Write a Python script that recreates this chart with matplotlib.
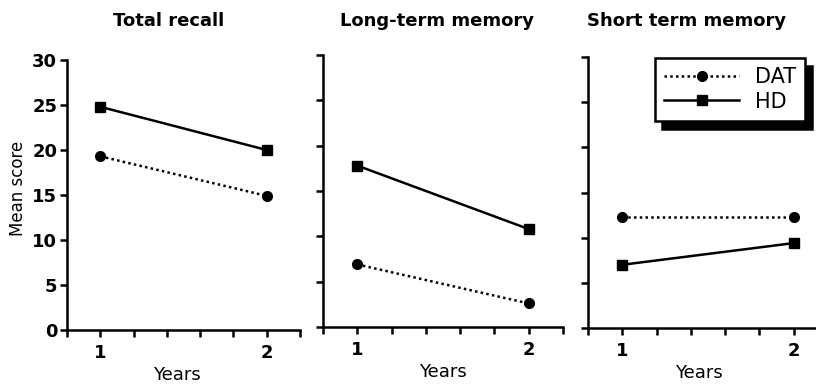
import numpy as np
import matplotlib
matplotlib.use('Agg')
import matplotlib.pyplot as plt
from matplotlib.lines import Line2D

years = [1, 2]
titles = ['Total recall', 'Long-term memory', 'Short term memory']
dat_scores = [[19.3, 14.9], [6.9, 2.6], [12.3, 12.3]]
hd_scores = [[24.8, 20.0], [17.8, 10.8], [7.0, 9.4]]
y_ticks = [0, 5, 10, 15, 20, 25, 30]

plt.rcParams['font.family'] = 'DejaVu Sans'

fig = plt.figure(figsize=(8.16, 3.85), dpi=100)

# axes boxes in pixels: left, top, width, bottom
boxes = [(67, 60, 233, 330), (323, 55, 240, 327), (588, 57, 240, 328)]
title_x = [169, 437, 687]
label_x = [0.47, 0.5, 0.4625]

W, H = 816, 385
axes = []
for i, (l, t, w, b) in enumerate(boxes):
    ax = fig.add_axes([l / W, 1 - b / H, w / W, (b - t) / H])
    axes.append(ax)
    ax.plot(years, dat_scores[i], color='black', lw=1.8, ls=(0, (1, 1.3)),
            marker='o', ms=7, clip_on=False, label='DAT')
    ax.plot(years, hd_scores[i], color='black', lw=1.8, ls='-',
            marker='s', ms=7.5, clip_on=False, label='HD')
    ax.set_xlim(0.8, 2.2)
    ax.set_ylim(0, 30)
    xt = np.round(np.arange(0.8, 2.21, 0.2), 1)
    ax.set_xticks(xt)
    ax.set_xticklabels(['1' if v == 1 else '2' if v == 2 else '' for v in xt],
                       fontsize=13, fontweight='bold')
    ax.set_yticks(y_ticks)
    if i == 0:
        ax.set_yticklabels([str(v) for v in y_ticks], fontsize=13, fontweight='bold')
    else:
        ax.set_yticklabels([])
    for s in ['top', 'right']:
        ax.spines[s].set_visible(False)
    for s in ['left', 'bottom']:
        ax.spines[s].set_linewidth(1.8)
    ax.tick_params(axis='both', direction='out', length=5, width=1.8)
    ax.tick_params(axis='x', pad=5)
    ax.tick_params(axis='y', pad=2)
    ax.set_xlabel('Years', fontsize=13)
    ax.xaxis.set_label_coords(label_x[i], -0.133)
    fig.text(title_x[i] / W, 1 - 21 / H, titles[i], ha='center', va='center',
             fontsize=13, fontweight='bold',
             family=['Liberation Sans Narrow', 'DejaVu Sans'])

fig.text(18 / W, 1 - 188 / H, 'Mean score', rotation=90, ha='center',
         va='center', fontsize=12)

handles = [
    Line2D([], [], color='black', lw=1.8, ls=(0, (1, 1.3)), marker='o', ms=7),
    Line2D([], [], color='black', lw=1.8, ls='-', marker='s', ms=7),
]
leg = axes[2].legend(handles, ['DAT', 'HD'], loc='upper left',
                     bbox_to_anchor=(0.279, 0.996), borderaxespad=0,
                     fontsize=15, handlelength=3.6, handletextpad=0.75,
                     labelspacing=0.2, borderpad=0.45, fancybox=False,
                     framealpha=1, edgecolor='black',
                     shadow={'ox': 5, 'oy': -5.5, 'color': 'black', 'alpha': 1})
leg.get_frame().set_linewidth(1.8)

fig.savefig('out.png', dpi=100)
